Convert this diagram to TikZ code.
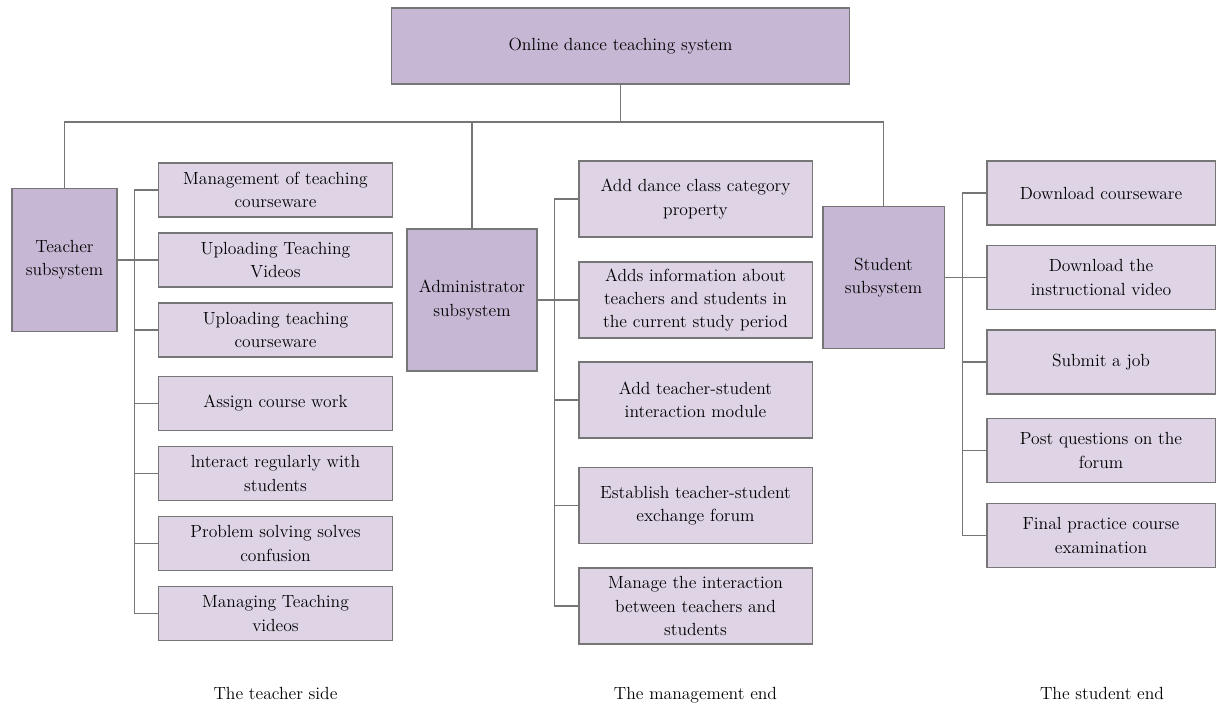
\documentclass[tikz,border=0pt]{standalone}
\usepackage{tikz}
\usetikzlibrary{positioning}
\definecolor{topfill}{HTML}{C6B8D4}
\definecolor{subfill}{HTML}{DED4E6}
\definecolor{linegray}{HTML}{767676}
\tikzstyle{mainblock} = [rectangle, draw=linegray, fill=topfill, line width=0.75pt,
    align=center, inner sep=2pt]
\tikzstyle{subblock} = [rectangle, draw=linegray, fill=subfill, line width=0.75pt,
    align=center, inner sep=2pt, minimum width=5.825cm]
\tikzstyle{tchild} = [subblock, minimum height=1.35cm]
\tikzstyle{achild} = [subblock, minimum height=1.9cm]
\tikzstyle{schild} = [subblock, minimum width=5.7cm, minimum height=1.6cm]
\tikzstyle{line} = [draw=linegray, line width=0.75pt]
\tikzstyle{caption} = [anchor=base]

\begin{document}
\begin{tikzpicture}[x=0.025cm, y=-0.025cm, font=\fontsize{12.5}{16.5}\selectfont]
    \useasboundingbox (0,0) rectangle (1216,707);
    % Place nodes
    \node [mainblock, minimum width=11.425cm, minimum height=1.9cm] (system) at (620.5,46) {Online dance teaching system};
    \node [mainblock, minimum width=2.625cm, minimum height=3.575cm] (teacher) at (64.5,260) {Teacher\\subsystem};
    \node [mainblock, minimum width=3.25cm, minimum height=3.55cm] (admin) at (472,300) {Administrator\\subsystem};
    \node [mainblock, minimum width=3.025cm, minimum height=3.55cm] (student) at (883.5,277.5) {Student\\subsystem};
%
    \node [tchild] (tc1) at (275.5,190) {Management of teaching\\courseware};
    \node [tchild] (tc2) at (275.5,260) {Uploading Teaching\\Videos};
    \node [tchild] (tc3) at (275.5,330) {Uploading teaching\\courseware};
    \node [tchild] (tc4) at (275.5,403.5) {Assign course work};
    \node [tchild] (tc5) at (275.5,473.5) {lnteract regularly with\\students};
    \node [tchild] (tc6) at (275.5,543.5) {Problem solving solves\\confusion};
    \node [tchild] (tc7) at (275.5,613.5) {Managing Teaching\\videos};
%
    \node [achild] (ac1) at (695.5,199) {Add dance class category\\property};
    \node [achild] (ac2) at (695.5,300) {Adds information about\\teachers and students in\\the current study period};
    \node [achild] (ac3) at (695.5,400) {Add teacher-student\\interaction module};
    \node [achild] (ac4) at (695.5,505.5) {Establish teacher-student\\exchange forum};
    \node [achild] (ac5) at (695.5,606) {Manage the interaction\\between teachers and\\students};
%
    \node [schild] (sc1) at (1101,193) {Download courseware};
    \node [schild] (sc2) at (1101,277.5) {Download the\\instructional video};
    \node [schild] (sc3) at (1101,362) {Submit a job};
    \node [schild] (sc4) at (1101,450.5) {Post questions on the\\forum};
    \node [schild] (sc5) at (1101,535.5) {Final practice course\\examination};
%
    \node [caption] (teacherSide) at (275.5,699) {The teacher side};
    \node [caption] (managementEnd) at (695.5,699) {The management end};
    \node [caption] (studentEnd) at (1102,699) {The student end};

    % Connect top level
    \coordinate (hbar) at (620.5,122);
    \path [line] (system) -- (hbar);
    \path [line] (teacher.north) |- (hbar) -| (student.north);
    \path [line] (admin.north) -- (admin.north |- hbar);

    % Teacher side
    \path [line] (teacher) -- (tc2);
    \path [line] (tc1.west) -- ++(-24,0) |- (tc7.west);
    \path [line] (tc3.west) -- ++(-24,0);
    \path [line] (tc4.west) -- ++(-24,0);
    \path [line] (tc5.west) -- ++(-24,0);
    \path [line] (tc6.west) -- ++(-24,0);

    % Management end
    \path [line] (admin) -- (ac2);
    \path [line] (ac1.west) -- ++(-24,0) |- (ac5.west);
    \path [line] (ac3.west) -- ++(-24,0);
    \path [line] (ac4.west) -- ++(-24,0);

    % Student end
    \path [line] (student) -- (sc2);
    \path [line] (sc1.west) -- ++(-24,0) |- (sc5.west);
    \path [line] (sc3.west) -- ++(-24,0);
    \path [line] (sc4.west) -- ++(-24,0);
\end{tikzpicture}
\end{document}
